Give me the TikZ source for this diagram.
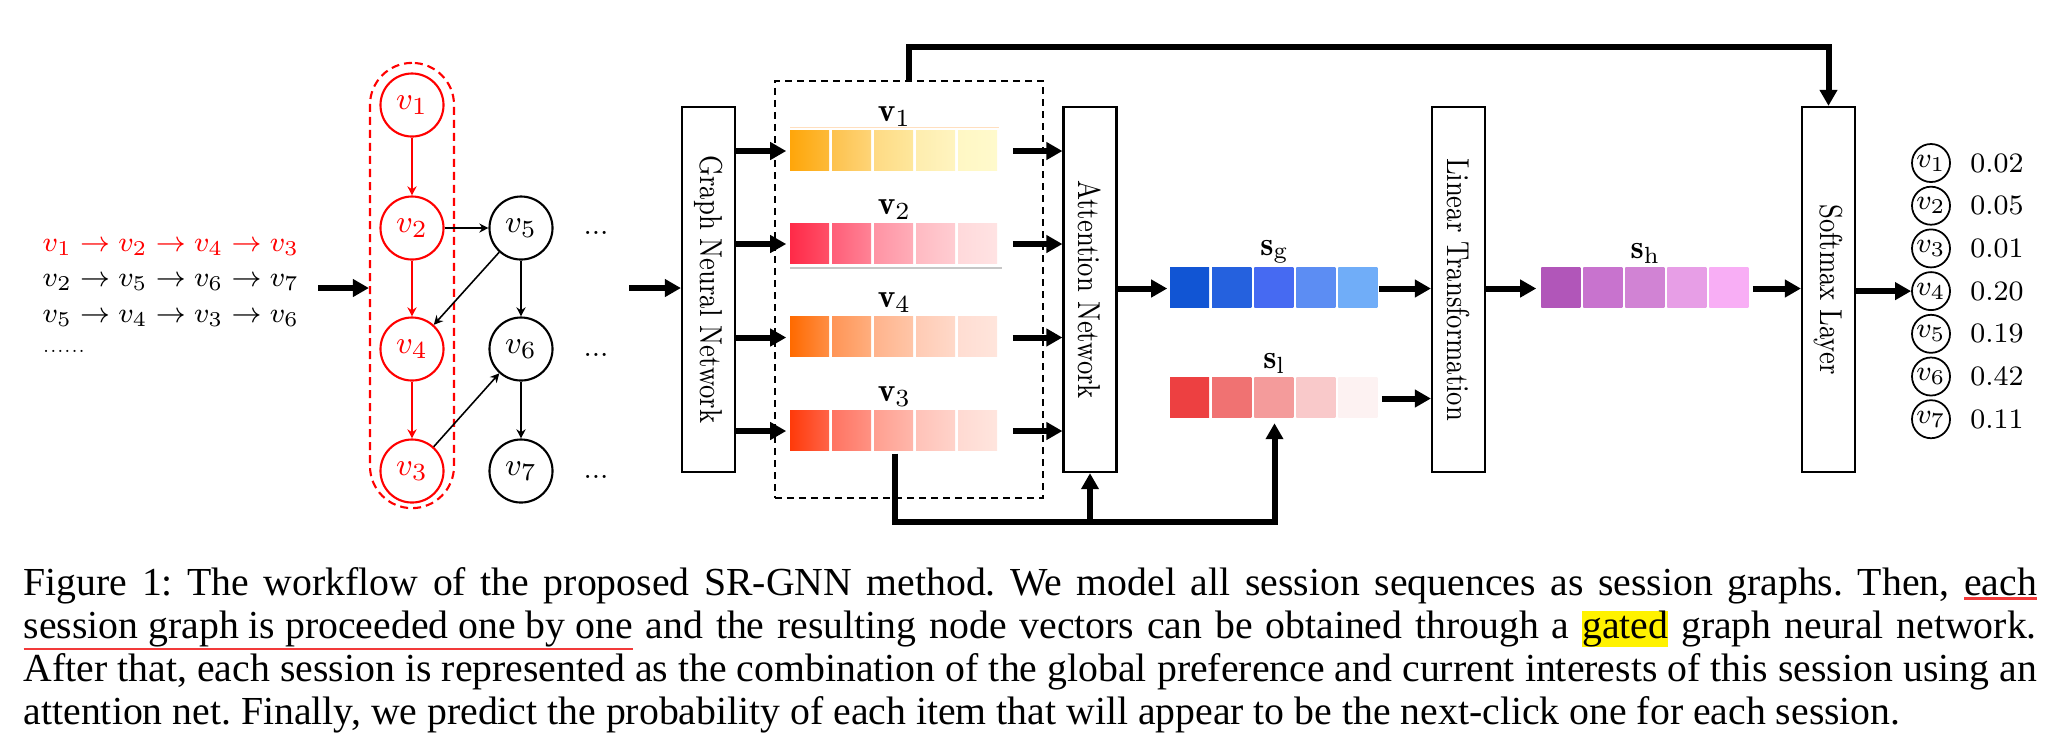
\documentclass[tikz,border=0pt]{standalone}
\usepackage{fontspec}
\usetikzlibrary{arrows.meta}
\newfontfamily\capfont{Liberation Serif}

\definecolor{hlyellow}{HTML}{FFF200}
\definecolor{ulred}{HTML}{F23A3A}

\newcommand{\redul}[2]{\setbox0\hbox{#2}\rlap{\textcolor{ulred}{\rule[#1]{\wd0}{0.8pt}}}\box0\relax}
\newcommand{\hlbox}[1]{{\setlength{\fboxsep}{0pt}\colorbox{hlyellow}{#1}}}

\newcommand{\cellrow}[1]{%
  \foreach \ca/\cb [count=\k from 0] in {#1} {
    \definecolor{cA}{HTML}{\ca}\definecolor{cB}{HTML}{\cb}
    \shade[left color=cA, right color=cB] (42*\k,0) rectangle ++(39,40);
  }}

\tikzset{
  gnode/.style={circle, draw, line width=0.6pt, minimum size=0.63cm, inner sep=0pt, font=\fontsize{9.5}{10}\selectfont},
  onode/.style={circle, draw, line width=0.5pt, minimum size=0.38cm, inner sep=0pt, font=\fontsize{8.5}{9}\selectfont},
  seq/.style={anchor=west, inner sep=0pt, font=\fontsize{8.5}{10}\selectfont},
  garrow/.style={-{Stealth[length=2.6pt,width=2.6pt]}, line width=0.45pt},
  bigarrow/.style={-{Triangle[length=0.16cm,width=0.17cm]}, line width=0.06cm},
  box/.style={draw, line width=0.6pt, minimum width=0.53cm, minimum height=3.65cm, inner sep=0pt},
  vlabel/.style={rotate=-90, xscale=0.82, inner sep=0pt, font=\fontsize{9}{10}\selectfont},
  bar/.style={minimum width=2.07cm, minimum height=0.4cm, inner sep=0pt},
  lab/.style={inner sep=1pt, font=\fontsize{9.5}{10}\selectfont},
  dots/.style={inner sep=0pt, font=\fontsize{8}{8}\selectfont},
  val/.style={inner sep=0pt, font=\fontsize{7.6}{9}\selectfont},
  capt/.style={anchor=north west, inner sep=0pt, text width=20.12cm, align=justify,
    font=\capfont\fontsize{11.3}{12.23}\selectfont\frenchspacing}
}

\begin{document}
\begin{tikzpicture}[x=0.01cm, y=-0.01cm]

	\useasboundingbox (0,0) rectangle (2057,750);

	\node[seq, red] (r1) at (42,247) {$v_1 \rightarrow v_2 \rightarrow v_4 \rightarrow v_3$};
	\node[seq] (r2) at (42,282) {$v_2 \rightarrow v_5 \rightarrow v_6 \rightarrow v_7$};
	\node[seq] (r3) at (42,318) {$v_5 \rightarrow v_4 \rightarrow v_3 \rightarrow v_6$};
	\node[seq, font=\fontsize{5}{6}\selectfont] (r4) at (42,351) {......};

	\node[draw, red, dashed, dash pattern=on 0.08cm off 0.05cm, line width=0.6pt,
		rounded corners=0.42cm, minimum width=0.84cm, minimum height=4.45cm] (sess) at (412,285.5) {};

	\node[gnode, red] (v1) at (412,105) {$v_1$};
	\node[gnode, red] (v2) at (412,228) {$v_2$};
	\node[gnode, red] (v4) at (412,349) {$v_4$};
	\node[gnode, red] (v3) at (412,471) {$v_3$};
	\node[gnode] (v5) at (521,228) {$v_5$};
	\node[gnode] (v6) at (521,349) {$v_6$};
	\node[gnode] (v7) at (521,471) {$v_7$};
	\node[dots] (d5) at (596,233) {...};
	\node[dots] (d6) at (596,355) {...};
	\node[dots] (d7) at (596,477) {...};

	\draw[garrow, red] (v1) -- (v2);
	\draw[garrow, red] (v2) -- (v4);
	\draw[garrow, red] (v4) -- (v3);
	\draw[garrow] (v2) -- (v5);
	\draw[garrow] (v5) -- (v4);
	\draw[garrow] (v5) -- (v6);
	\draw[garrow] (v3) -- (v6);
	\draw[garrow] (v6) -- (v7);

	\coordinate (s0) at (318,288);
	\draw[bigarrow] (s0) -- (s0 -| sess.west);

	\node[box] (gnn) at (708.5,289.5) {};
	\node[vlabel] (gnnlab) at (gnn) {Graph Neural Network};
	\node[box] (att) at (1090,289.5) {};
	\node[vlabel] (attlab) at (att) {Attention Network};
	\node[box] (lt) at (1458.5,289.5) {};
	\node[vlabel] (ltlab) at (lt) {Linear Transformation};
	\node[box] (sm) at (1828.5,289.5) {};
	\node[vlabel] (smlab) at (sm) {Softmax Layer};

	\coordinate (g0) at (629,288);
	\draw[bigarrow] (g0) -- (g0 -| gnn.west);

	\node[draw, dashed, dash pattern=on 0.07cm off 0.05cm, line width=0.5pt,
		minimum width=2.68cm, minimum height=4.17cm] (ctx) at (909,289.5) {};

	\node[bar, label={[lab]above:$\mathbf{v}_1$}] (b1) at (894.5,151) {};
	\node[bar, label={[lab]above:$\mathbf{v}_2$}] (b2) at (894.5,244) {};
	\node[bar, label={[lab]above:$\mathbf{v}_4$}] (b4) at (894.5,337.5) {};
	\node[bar, label={[lab]above:$\mathbf{v}_3$}] (b3) at (894.5,431) {};
	\node[bar, label={[lab]above:$\mathbf{s}_\mathrm{g}$}] (sg) at (1274.5,288.5) {};
	\node[bar, label={[lab]above:$\mathbf{s}_\mathrm{l}$}] (sl) at (1274.5,398.5) {};
	\node[bar, label={[lab]above:$\mathbf{s}_\mathrm{h}$}] (sh) at (1645.5,288.5) {};

	\begin{scope}[shift={(b1.north west)}]
		\cellrow{FFA60A/FDBA38,FDC24E/FED477,FEDA84/FEE79C,FEEDAE/FFF4C0,FFF7C4/FFFACC}
	\end{scope}
	\begin{scope}[shift={(b2.north west)}]
		\cellrow{FF2A48/FF5068,FF5E78/FF8396,FF93A4/FFADB8,FFBAC2/FFCDD2,FFD9DB/FFE3E3}
	\end{scope}
	\begin{scope}[shift={(b4.north west)}]
		\cellrow{FF6A00/FF8E45,FF9556/FFAE7E,FFB38C/FFC6A8,FFCBB4/FFD9C9,FFDDD2/FFE5DC}
	\end{scope}
	\begin{scope}[shift={(b3.north west)}]
		\cellrow{FF3A0A/FF6448,FF7462/FF9283,FF9F90/FFB7AB,FFC2B8/FFD3CA,FFDAD2/FFE5DE}
	\end{scope}
	\begin{scope}[shift={(sg.north west)}]
		\cellrow{1155D4/1155D4,2561DE/2561DE,466AF2/466AF2,5C8DF3/5C8DF3,70ADF8/70ADF8}
	\end{scope}
	\begin{scope}[shift={(sl.north west)}]
		\cellrow{ED4041/ED4041,F07272/F07272,F49B9B/F49B9B,F9C9CA/F9C9CA,FDF2F2/FDF2F2}
	\end{scope}
	\begin{scope}[shift={(sh.north west)}]
		\cellrow{B156B9/B156B9,C873CE/C873CE,D183D4/D183D4,E79EE6/E79EE6,F8AEF5/F8AEF5}
	\end{scope}

	\draw[orange!25, line width=0.4pt] ([yshift=0.03cm]b1.north west) -- ([yshift=0.03cm]b1.north east);
	\draw[gray!45, line width=0.5pt] ([yshift=-0.03cm]b2.south west) -- ([yshift=-0.03cm, xshift=0.03cm]b2.south east);

	\foreach \b in {b1,b2,b4,b3} {
		\draw[bigarrow, shorten >=0.04cm] (gnn.east |- \b) -- (\b.west);
		\draw[bigarrow] ([xshift=0.14cm]\b.east) -- (att.west |- \b);
	}

	\draw[bigarrow, shorten >=0.03cm] (att.east |- sg) -- (sg.west);
	\draw[bigarrow] (sg.east) -- (lt.west |- sg);
	\draw[bigarrow] ([xshift=0.03cm]sl.east) -- (lt.west |- sl);
	\draw[bigarrow, shorten >=0.05cm] (lt.east |- sh) -- (sh.west);
	\draw[bigarrow] ([xshift=0.03cm]sh.east) -- (sm.west |- sh);

	\draw[bigarrow] (ctx.north) -- ++(0,-33) -| (sm.north);
	\coordinate (bot) at (894.5,522);
	\draw[bigarrow, shorten >=0.04cm] ([yshift=-0.02cm]b3.south) -- (bot) -| (sl.south);
	\draw[bigarrow] (att.south |- bot) -- (att.south);

	\foreach \i/\p [count=\k from 0] in {1/0.02,2/0.05,3/0.01,4/0.20,5/0.19,6/0.42,7/0.11} {
		\node[onode] (o\i) at (1931,163+42.7*\k) {$v_\i$};
		\node[val] (p\i) at (1997,163+42.7*\k) {$\p$};
	}
	\draw[bigarrow] (sm.east |- o4) -- (o4.west);

	\node[capt] (cap) at (23,567) {Figure 1: The workflow of the proposed SR-GNN method. We model all session sequences as session graphs. Then, \redul{-1.2pt}{each}\linebreak \redul{-3.3pt}{session graph is proceeded one by one} and the resulting node vectors can be obtained through a \hlbox{gated} graph neural network.\linebreak After that, each session is represented as the combination of the global preference and current interests of this session using an\linebreak attention net. Finally, we predict the probability of each item that will appear to be the next-click one for each session.};

\end{tikzpicture}
\end{document}
